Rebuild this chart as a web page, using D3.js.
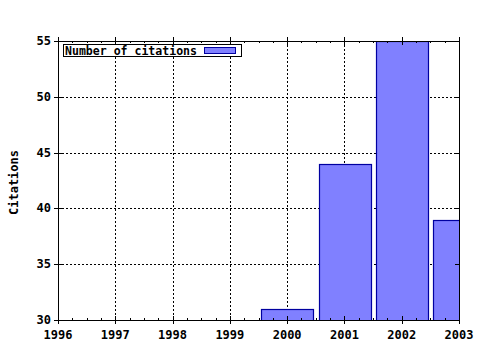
<!DOCTYPE html>
<html><head><meta charset="utf-8">
<script src="https://cdn.jsdelivr.net/npm/d3@7"></script>
<style>body{margin:0;background:#fff}svg{display:block}</style>
</head><body>
<svg id="c" width="480" height="350"></svg>
<script>
const years = [2000, 2001, 2002, 2003];
const citations = [31, 44, 55, 39];
const xTicks = [1996, 1997, 1998, 1999, 2000, 2001, 2002, 2003];
const yTicks = [30, 35, 40, 45, 50, 55];
const seriesName = "Number of citations";
const yLabel = "Citations";

const svg = d3.select("#c");
const L = 58, R = 459, T = 41, B = 320;
const font = "'DejaVu Sans Mono', monospace";
const fs = 12;
const x = d3.scaleLinear().domain([1996, 2003]).range([L, R]);
const y = d3.scaleLinear().domain([30, 55]).range([B, T]);

svg.append("clipPath").attr("id", "clip").append("rect")
  .attr("x", L).attr("y", T).attr("width", R - L).attr("height", B - T);

// grid
const grid = svg.append("g").attr("stroke", "#000").attr("stroke-dasharray", "2,2").attr("shape-rendering", "crispEdges");
grid.selectAll(".gx").data(xTicks.slice(1, -1)).join("line")
  .attr("x1", d => Math.round(x(d)) + 0.5).attr("x2", d => Math.round(x(d)) + 0.5)
  .attr("y1", T).attr("y2", B);
grid.selectAll(".gy").data(yTicks.slice(1, -1)).join("line")
  .attr("y1", d => Math.round(y(d)) + 0.5).attr("y2", d => Math.round(y(d)) + 0.5)
  .attr("x1", L).attr("x2", R);

// bars
const bw = (x(1) - x(0)) * 0.9;
svg.append("g").attr("clip-path", "url(#clip)")
  .selectAll("rect").data(years).join("rect")
  .attr("x", (d) => Math.round(x(d) - bw / 2) + 0.5)
  .attr("y", (d, i) => Math.round(y(citations[i])) + 0.5)
  .attr("width", Math.round(bw))
  .attr("height", (d, i) => B - Math.round(y(citations[i])) + 2)
  .attr("fill", "#8080ff").attr("stroke", "#0000a0").attr("stroke-width", 1.2);

// axes frame
const ax = svg.append("g").attr("stroke", "#000").attr("shape-rendering", "crispEdges");
ax.append("line").attr("x1", L).attr("x2", R + 1).attr("y1", B + 0.5).attr("y2", B + 0.5);
ax.append("line").attr("x1", L).attr("x2", R + 1).attr("y1", T + 0.5).attr("y2", T + 0.5);
ax.append("line").attr("x1", L + 0.5).attr("x2", L + 0.5).attr("y1", T - 4).attr("y2", B + 1);
ax.append("line").attr("x1", R + 0.5).attr("x2", R + 0.5).attr("y1", T - 4).attr("y2", B + 1);

const minor = d3.range(1996, 2003.001, 0.25);
minor.forEach(v => {
  const px = Math.round(x(v)) + 0.5;
  const major = Math.abs(v - Math.round(v)) < 1e-6;
  ax.append("line").attr("x1", px).attr("x2", px).attr("y1", B - (major ? 4 : 2)).attr("y2", B + (major ? 4 : 0));
  ax.append("line").attr("x1", px).attr("x2", px).attr("y1", T - (major ? 4 : 0)).attr("y2", T + (major ? 4 : 2));
});
yTicks.forEach(v => {
  const py = Math.round(y(v)) + 0.5;
  ax.append("line").attr("y1", py).attr("y2", py).attr("x1", L - 4).attr("x2", L + 4);
  ax.append("line").attr("y1", py).attr("y2", py).attr("x1", R - 4).attr("x2", R);
});

// labels
svg.append("g").selectAll("text").data(xTicks).join("text")
  .attr("x", d => x(d)).attr("y", B + 19).attr("text-anchor", "middle")
  .attr("font-family", font).attr("font-weight", "bold").attr("font-size", fs)
  .text(d => d);
svg.append("g").selectAll("text").data(yTicks).join("text")
  .attr("x", L - 7).attr("y", d => y(d) + 4).attr("text-anchor", "end")
  .attr("font-family", font).attr("font-weight", "bold").attr("font-size", fs)
  .text(d => d);
svg.append("text").attr("transform", `translate(18,${(T + B) / 2 + 2}) rotate(-90)`)
  .attr("text-anchor", "middle").attr("font-family", font).attr("font-weight", "bold").attr("font-size", fs)
  .text(yLabel);

// legend
const lg = svg.append("g");
lg.append("rect").attr("x", 63.5).attr("y", 44.5).attr("width", 178).attr("height", 12)
  .attr("fill", "#fff").attr("stroke", "#000");
lg.append("text").attr("x", 65).attr("y", 54.5).attr("font-family", font).attr("font-weight", "bold")
  .attr("font-size", fs).attr("textLength", 132).attr("lengthAdjust", "spacingAndGlyphs").text(seriesName);
lg.append("rect").attr("x", 204.5).attr("y", 47.5).attr("width", 31).attr("height", 6)
  .attr("fill", "#8080ff").attr("stroke", "#0000a0");
</script>
</body></html>
